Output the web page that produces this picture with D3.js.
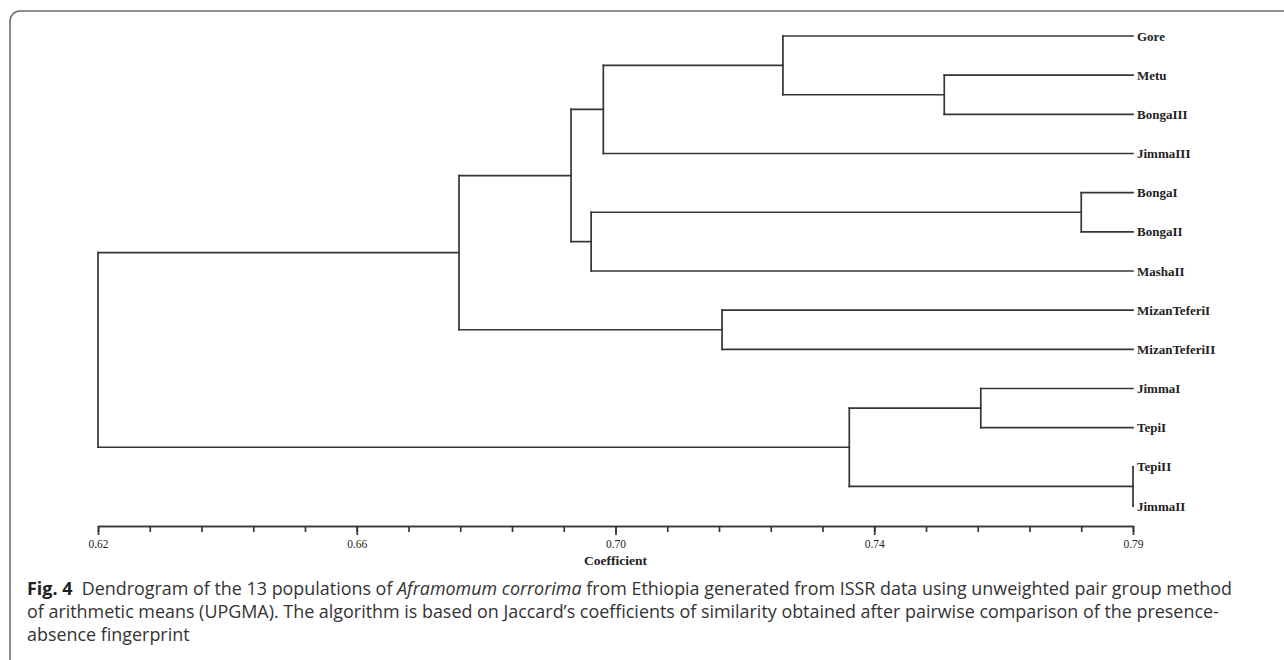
<!DOCTYPE html>
<html>
<head>
<meta charset="utf-8">
<script src="https://cdn.jsdelivr.net/npm/d3@7"></script>
<style>
  html, body { margin: 0; padding: 0; background: #fff; }
  svg { display: block; }
</style>
</head>
<body>
<svg id="chart" width="1284" height="660"></svg>
<script>
// ---- data ----
const leaves = ["Gore","Metu","BongaIII","JimmaIII","BongaI","BongaII","MashaII",
                "MizanTeferiI","MizanTeferiII","JimmaI","TepiI","TepiII","JimmaII"];
// [node id, child 1, child 2, coefficient at which they join]
const merges = [
  ["n1",  "Metu",        "BongaIII",      0.759],
  ["n2",  "Gore",        "n1",            0.7325],
  ["n3",  "n2",          "JimmaIII",      0.703],
  ["n4",  "BongaI",      "BongaII",       0.7815],
  ["n5",  "n4",          "MashaII",       0.701],
  ["n6",  "n3",          "n5",            0.6977],
  ["n7",  "MizanTeferiI","MizanTeferiII", 0.7225],
  ["n8",  "n6",          "n7",            0.6793],
  ["n9",  "JimmaI",      "TepiI",         0.765],
  ["n10", "TepiII",      "JimmaII",       0.79],
  ["n11", "n9",          "n10",           0.7434],
  ["n12", "n8",          "n11",           0.62]
];
const leafCoef = 0.79;
const tickValues = [0.62, 0.6625, 0.705, 0.7475, 0.79];
const tickLabels = ["0.62", "0.66", "0.70", "0.74", "0.79"];
const axisTitle = "Coefficient";
const captionLines = [
  [{t:"Fig. 4", b:true}, {t:"  Dendrogram of the 13 populations of "}, {t:"Aframomum corrorima", i:true},
   {t:" from Ethiopia generated from ISSR data using unweighted pair group method"}],
  [{t:"of arithmetic means (UPGMA). The algorithm is based on Jaccard\u2019s coefficients of similarity obtained after pairwise comparison of the presence-"}],
  [{t:"absence fingerprint"}]
];

// ---- build tree ----
const nodeMap = {};
leaves.forEach(n => nodeMap[n] = {name: n, coef: leafCoef});
merges.forEach(([id, a, b, c]) => {
  nodeMap[id] = {name: id, coef: c, children: [nodeMap[a], nodeMap[b]]};
});
const root = d3.hierarchy(nodeMap[merges[merges.length - 1][0]]);

const svg = d3.select("#chart");
const x = d3.scaleLinear().domain([0.62, 0.79]).range([98, 1133]);
const y = d3.scalePoint().domain(leaves).range([36, 506]);

root.eachAfter(d => {
  if (!d.children) d.y = y(d.data.name);
  else d.y = d3.mean(d.children, c => c.y);
});

// frame
svg.append("path")
  .attr("d", "M10,660 L10,21 A10,10 0 0 1 20,11 L1284,11")
  .attr("fill", "none").attr("stroke", "#6b6b6b").attr("stroke-width", 1.5);

const g = svg.append("g");
const lineColor = "#353535";
root.descendants().filter(d => d.children).forEach(d => {
  const xn = x(d.data.coef);
  const ys = d.children.map(c => c.y);
  g.append("line").attr("x1", xn).attr("x2", xn)
    .attr("y1", d3.min(ys)).attr("y2", d3.max(ys))
    .attr("stroke", lineColor).attr("stroke-width", 1.7).attr("stroke-linecap", "square");
  d.children.forEach(c => {
    g.append("line").attr("x1", xn).attr("x2", x(c.data.coef))
      .attr("y1", c.y).attr("y2", c.y)
      .attr("stroke", lineColor).attr("stroke-width", 1.7).attr("stroke-linecap", "square");
  });
});

// leaf labels
g.selectAll("text.leaf").data(root.leaves()).join("text")
  .attr("class", "leaf")
  .attr("x", d => x(d.data.coef) + 4)
  .attr("y", d => d.y)
  .attr("dy", "0.35em")
  .attr("font-family", "'Liberation Serif', 'DejaVu Serif', serif")
  .attr("font-weight", "bold")
  .attr("font-size", 13)
  .attr("fill", "#222")
  .text(d => d.data.name);

// axis
const axisY = 526;
const minorTicks = d3.range(0, 21).map(i => 0.62 + i * 0.0085);
const minor = d3.axisBottom(x).tickValues(minorTicks).tickSize(6).tickSizeOuter(0).tickFormat("");
const major = d3.axisBottom(x).tickValues(tickValues).tickSize(9).tickSizeOuter(0).tickPadding(5)
  .tickFormat((d, i) => tickLabels[i]);
const gMinor = svg.append("g").attr("transform", `translate(0,${axisY})`).call(minor);
const gMajor = svg.append("g").attr("transform", `translate(0,${axisY})`).call(major);
[gMinor, gMajor].forEach(ga => {
  ga.selectAll("path, line").attr("stroke", lineColor).attr("stroke-width", 1.7);
  ga.selectAll("text").attr("font-family", "'Liberation Serif', serif").attr("font-size", 11.5).attr("fill", "#222");
});

svg.append("text").attr("x", x(0.705)).attr("y", 565).attr("text-anchor", "middle")
  .attr("font-family", "'Liberation Serif', serif").attr("font-weight", "bold").attr("font-size", 13.5)
  .attr("fill", "#222").text(axisTitle);

// caption
const capBase = [595, 618, 641];
const capTexts = captionLines.map((parts, li) => {
  const t = svg.append("text").attr("x", 27).attr("y", capBase[li])
    .attr("font-family", "'Open Sans', 'Noto Sans', sans-serif").attr("font-size", 17.5).attr("fill", "#333");
  parts.forEach(p => {
    t.append("tspan").attr("font-weight", p.b ? "bold" : "normal")
      .attr("font-style", p.i ? "italic" : "normal")
      .attr("fill", p.b ? "#222" : "#333")
      .attr("xml:space", "preserve")
      .text(p.t);
  });
  t.attr("xml:space", "preserve");
  return t;
});
// horizontally condense lines so line 1 spans to x≈1232 (source font is narrower)
const w1 = capTexts[0].node().getComputedTextLength();
const ratio = (1232 - 27) / w1;
capTexts.forEach(t => {
  const w = t.node().getComputedTextLength();
  t.attr("textLength", w * ratio).attr("lengthAdjust", "spacingAndGlyphs");
});
</script>
</body>
</html>
